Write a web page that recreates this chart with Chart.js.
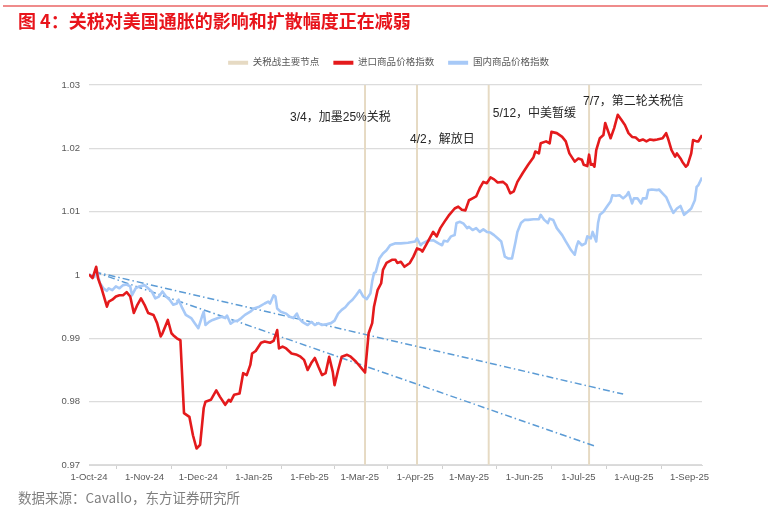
<!DOCTYPE html>
<html>
<head>
<meta charset="utf-8">
<script src="https://cdn.jsdelivr.net/npm/chart.js@4.4.1/dist/chart.umd.min.js"></script>
<style>
html,body{margin:0;padding:0;background:#fff;}
#wrap{position:relative;width:770px;height:511px;overflow:hidden;background:#fff;}
#c{position:absolute;left:0;top:0;}
#topRule{position:absolute;left:3px;top:5px;width:765px;height:2px;background:#ef8b8b;}
#title{position:absolute;left:18px;top:8px;font-family:"Noto Sans CJK SC",sans-serif;font-weight:bold;font-size:18px;color:#e8141b;line-height:24px;white-space:nowrap;}
#source{position:absolute;left:18px;top:487px;font-family:"Noto Sans CJK SC",sans-serif;font-size:13.5px;color:#7f7f7f;line-height:20px;white-space:nowrap;}
</style>
</head>
<body>
<div id="wrap">
  <canvas id="c" width="770" height="511"></canvas>
  <div id="topRule"></div>
  <div id="title">图 4：关税对美国通胀的影响和扩散幅度正在减弱</div>
  <div id="source">数据来源：Cavallo，东方证券研究所</div>
</div>
<script>
// ---------------- DATA ----------------
const seriesNames = ['关税战主要节点', '进口商品价格指数', '国内商品价格指数'];

const importDates = [
'2024-10-01','2024-10-03','2024-10-05','2024-10-06','2024-10-08','2024-10-11','2024-10-12','2024-10-14','2024-10-16','2024-10-18',
'2024-10-20','2024-10-22','2024-10-24','2024-10-26','2024-10-28','2024-10-30','2024-11-01','2024-11-03','2024-11-06','2024-11-08',
'2024-11-10','2024-11-11','2024-11-14','2024-11-16','2024-11-17','2024-11-19','2024-11-21','2024-11-23','2024-11-26','2024-11-28',
'2024-11-30','2024-12-02','2024-12-04','2024-12-05','2024-12-08','2024-12-11','2024-12-13','2024-12-16','2024-12-18','2024-12-19',
'2024-12-21','2024-12-24','2024-12-26','2024-12-28','2024-12-30','2024-12-31','2025-01-02','2025-01-05','2025-01-07','2025-01-10',
'2025-01-12','2025-01-14','2025-01-15','2025-01-17','2025-01-19','2025-01-22','2025-01-25','2025-01-27','2025-01-29','2025-01-31',
'2025-02-02','2025-02-04','2025-02-06','2025-02-08','2025-02-10','2025-02-12','2025-02-14','2025-02-15','2025-02-17','2025-02-19',
'2025-02-22','2025-02-24','2025-02-27','2025-03-02','2025-03-04','2025-03-06','2025-03-08','2025-03-09','2025-03-11','2025-03-13',
'2025-03-14','2025-03-16','2025-03-19','2025-03-21','2025-03-22','2025-03-24','2025-03-26','2025-03-29','2025-03-31','2025-04-02',
'2025-04-04','2025-04-05','2025-04-07','2025-04-11','2025-04-13','2025-04-15','2025-04-18','2025-04-20','2025-04-23','2025-04-25',
'2025-04-27','2025-04-29','2025-05-01','2025-05-03','2025-05-05','2025-05-07','2025-05-09','2025-05-11','2025-05-13','2025-05-15',
'2025-05-17','2025-05-20','2025-05-22','2025-05-24','2025-05-26','2025-05-28','2025-05-31','2025-06-03','2025-06-06','2025-06-07',
'2025-06-09','2025-06-10','2025-06-13','2025-06-15','2025-06-16','2025-06-19','2025-06-22','2025-06-24','2025-06-26','2025-06-29',
'2025-07-01','2025-07-03','2025-07-04','2025-07-06','2025-07-07','2025-07-08','2025-07-09','2025-07-10','2025-07-11','2025-07-13',
'2025-07-15','2025-07-16','2025-07-18','2025-07-19','2025-07-21','2025-07-23','2025-07-25','2025-07-27','2025-07-29','2025-07-31',
'2025-08-02','2025-08-04','2025-08-06','2025-08-08','2025-08-10','2025-08-12','2025-08-14','2025-08-17','2025-08-19','2025-08-20',
'2025-08-22','2025-08-24','2025-08-25','2025-08-27','2025-08-28','2025-08-30','2025-08-31','2025-09-02','2025-09-03','2025-09-05',
'2025-09-06','2025-09-08'
];
const importIndex = [
1.0001,0.9995,1.0013,0.9995,0.9979,0.9950,0.9958,0.9961,0.9966,0.9968,
0.9968,0.9973,0.9966,0.9940,0.9953,0.9963,0.9953,0.9940,0.9937,0.9924,
0.9903,0.9908,0.9929,0.9908,0.9905,0.9900,0.9897,0.9782,0.9776,0.9747,
0.9726,0.9732,0.9790,0.9800,0.9803,0.9818,0.9808,0.9795,0.9803,0.9800,
0.9811,0.9813,0.9845,0.9842,0.9858,0.9876,0.9880,0.9893,0.9895,0.9893,
0.9896,0.9913,0.9884,0.9887,0.9884,0.9876,0.9874,0.9871,0.9866,0.9850,
0.9861,0.9869,0.9855,0.9842,0.9845,0.9871,0.9847,0.9826,0.9850,0.9871,
0.9874,0.9871,0.9863,0.9853,0.9846,0.9908,0.9924,0.9950,0.9976,0.9987,
1.0008,1.0019,1.0024,1.0024,1.0019,1.0021,1.0013,1.0019,1.0029,1.0042,
1.0040,1.0037,1.0047,1.0068,1.0061,1.0074,1.0087,1.0095,1.0105,1.0108,
1.0103,1.0102,1.0118,1.0121,1.0124,1.0137,1.0147,1.0145,1.0154,1.0151,
1.0146,1.0147,1.0142,1.0129,1.0132,1.0147,1.0161,1.0174,1.0186,1.0195,
1.0192,1.0208,1.0211,1.0208,1.0226,1.0224,1.0218,1.0211,1.0192,1.0179,
1.0184,1.0182,1.0174,1.0172,1.0190,1.0174,1.0175,1.0171,1.0197,1.0216,
1.0221,1.0240,1.0224,1.0216,1.0232,1.0253,1.0245,1.0237,1.0224,1.0218,
1.0217,1.0212,1.0214,1.0211,1.0214,1.0213,1.0214,1.0216,1.0224,1.0216,
1.0197,1.0187,1.0192,1.0184,1.0179,1.0171,1.0174,1.0192,1.0213,1.0211,
1.0211,1.0221
];

const domesticDates = [
'2024-10-01','2024-10-04','2024-10-05','2024-10-07','2024-10-09','2024-10-11','2024-10-12','2024-10-14','2024-10-16','2024-10-18',
'2024-10-20','2024-10-22','2024-10-24','2024-10-25','2024-10-27','2024-10-29','2024-11-01','2024-11-03','2024-11-05','2024-11-07',
'2024-11-09','2024-11-11','2024-11-13','2024-11-15','2024-11-17','2024-11-19','2024-11-20','2024-11-22','2024-11-24','2024-11-27',
'2024-11-29','2024-12-01','2024-12-03','2024-12-04','2024-12-05','2024-12-07','2024-12-09','2024-12-12','2024-12-14','2024-12-16',
'2024-12-17','2024-12-19','2024-12-21','2024-12-23','2024-12-25','2024-12-27','2024-12-30','2025-01-01','2025-01-04','2025-01-07',
'2025-01-09','2025-01-10','2025-01-12','2025-01-13','2025-01-14','2025-01-16','2025-01-19','2025-01-21','2025-01-23','2025-01-25',
'2025-01-26','2025-01-28','2025-01-31','2025-02-02','2025-02-04','2025-02-06','2025-02-08','2025-02-10','2025-02-13','2025-02-15',
'2025-02-17','2025-02-19','2025-02-21','2025-02-23','2025-02-25','2025-02-27','2025-03-01','2025-03-03','2025-03-05','2025-03-07',
'2025-03-08','2025-03-09','2025-03-10','2025-03-12','2025-03-14','2025-03-16','2025-03-18','2025-03-21','2025-03-24','2025-03-28',
'2025-04-01','2025-04-02','2025-04-04','2025-04-05','2025-04-08','2025-04-11','2025-04-14','2025-04-16','2025-04-17','2025-04-19',
'2025-04-21','2025-04-23','2025-04-24','2025-04-26','2025-04-28','2025-04-30','2025-05-01','2025-05-03','2025-05-05','2025-05-07',
'2025-05-09','2025-05-11','2025-05-13','2025-05-15','2025-05-17','2025-05-19','2025-05-21','2025-05-23','2025-05-25','2025-05-27',
'2025-05-28','2025-05-30','2025-06-01','2025-06-03','2025-06-06','2025-06-09','2025-06-10','2025-06-12','2025-06-14','2025-06-15',
'2025-06-17','2025-06-19','2025-06-22','2025-06-24','2025-06-27','2025-06-29','2025-06-30','2025-07-01','2025-07-03','2025-07-05',
'2025-07-06','2025-07-08','2025-07-09','2025-07-11','2025-07-12','2025-07-13','2025-07-15','2025-07-17','2025-07-19','2025-07-20',
'2025-07-22','2025-07-24','2025-07-26','2025-07-28','2025-07-29','2025-07-31','2025-08-01','2025-08-03','2025-08-05','2025-08-06',
'2025-08-08','2025-08-09','2025-08-11','2025-08-14','2025-08-15','2025-08-17','2025-08-19','2025-08-21','2025-08-23','2025-08-25',
'2025-08-27','2025-08-29','2025-08-31','2025-09-02','2025-09-04','2025-09-05','2025-09-06','2025-09-08'
];
const domesticIndex = [
1.0001,0.9997,1.0011,0.9988,0.9979,0.9975,0.9979,0.9976,0.9982,0.9979,
0.9984,0.9985,0.9982,0.9968,0.9979,0.9982,0.9984,0.9979,0.9974,0.9963,
0.9966,0.9974,0.9966,0.9961,0.9953,0.9955,0.9961,0.9948,0.9937,0.9932,
0.9924,0.9916,0.9934,0.9942,0.9921,0.9926,0.9929,0.9932,0.9934,0.9932,
0.9936,0.9923,0.9927,0.9928,0.9932,0.9937,0.9942,0.9947,0.9950,0.9955,
0.9958,0.9955,0.9968,0.9966,0.9947,0.9942,0.9939,0.9934,0.9932,0.9939,
0.9932,0.9926,0.9921,0.9926,0.9921,0.9924,0.9921,0.9922,0.9924,0.9928,
0.9939,0.9945,0.9949,0.9956,0.9961,0.9968,0.9976,0.9966,0.9962,0.9971,
0.9990,1.0003,1.0005,1.0026,1.0034,1.0039,1.0047,1.0050,1.0050,1.0051,
1.0053,1.0058,1.0047,1.0050,1.0054,1.0055,1.0050,1.0047,1.0054,1.0053,
1.0061,1.0063,1.0082,1.0084,1.0081,1.0074,1.0076,1.0071,1.0074,1.0068,
1.0072,1.0068,1.0067,1.0063,1.0058,1.0053,1.0029,1.0026,1.0026,1.0053,
1.0068,1.0082,1.0087,1.0087,1.0088,1.0088,1.0095,1.0087,1.0082,1.0089,
1.0087,1.0074,1.0063,1.0053,1.0039,1.0032,1.0045,1.0053,1.0047,1.0050,
1.0061,1.0058,1.0068,1.0053,1.0082,1.0095,1.0100,1.0108,1.0116,1.0126,
1.0125,1.0126,1.0121,1.0126,1.0131,1.0113,1.0121,1.0121,1.0113,1.0121,
1.0121,1.0134,1.0135,1.0134,1.0135,1.0129,1.0123,1.0110,1.0098,1.0105,
1.0109,1.0095,1.0100,1.0105,1.0118,1.0139,1.0142,1.0154
];

// tariff-war key dates and their annotations
const eventDates = ['2025-03-04', '2025-04-02', '2025-05-12', '2025-07-07'];
const eventLabels = ['3/4，加墨25%关税', '4/2，解放日', '5/12，中美暂缓', '7/7，第二轮关税信'];

// dash-dot trend guides
const trendUpperDates = ['2024-10-04', '2025-07-26'];
const trendUpperValues = [1.0005, 0.9812];
const trendLowerDates = ['2024-10-04', '2025-07-11'];
const trendLowerValues = [1.0005, 0.9729];

// axes
const xTickDates = ['2024-10-01','2024-11-01','2024-12-01','2025-01-01','2025-02-01','2025-03-01',
                    '2025-04-01','2025-05-01','2025-06-01','2025-07-01','2025-08-01','2025-09-01'];
const xTickLabels = ['1-Oct-24','1-Nov-24','1-Dec-24','1-Jan-25','1-Feb-25','1-Mar-25',
                     '1-Apr-25','1-May-25','1-Jun-25','1-Jul-25','1-Aug-25','1-Sep-25'];
const xAxisEndDate = '2025-09-08';
const yAxisMin = 0.97;
const yAxisMax = 1.03;
const yAxisStep = 0.01;

// ---------------- HELPERS ----------------
const ORIGIN = Date.UTC(2024, 9, 1);
function toDay(s) {
  const p = s.split('-').map(Number);
  return (Date.UTC(p[0], p[1] - 1, p[2]) - ORIGIN) / 86400000;
}
function toXY(dates, vals) { return dates.map((d, i) => ({ x: toDay(d), y: vals[i] })); }

const FONT = '"Liberation Sans","Noto Sans CJK SC",sans-serif';
Chart.defaults.font.family = FONT;
Chart.defaults.color = '#595959';

const eventLabelPlugin = {
  id: 'eventLabels',
  afterDatasetsDraw(chart) {
    const { ctx, chartArea, scales } = chart;
    const place = [{ dx: -75, dy: 32.5 }, { dx: -7, dy: 55 }, { dx: 4, dy: 28.3 }, { dx: -6, dy: 16.7 }];
    ctx.save();
    ctx.font = '12px ' + FONT;
    ctx.fillStyle = '#262626';
    ctx.textBaseline = 'middle';
    ctx.textAlign = 'left';
    eventLabels.forEach((t, i) => {
      const px = scales.x.getPixelForValue(toDay(eventDates[i]));
      ctx.fillText(t, px + place[i].dx, chartArea.top + place[i].dy);
    });
    ctx.restore();
  }
};

const TAN = '#e6dac3';
const RED = '#e41a1c';
const BLUE = '#a7c9f7';
const DASHBLUE = '#5b9bd5';

new Chart(document.getElementById('c'), {
  type: 'line',
  data: {
    datasets: [
      {
        type: 'bar', label: seriesNames[0],
        data: eventDates.map(d => ({ x: toDay(d), y: yAxisMax })),
        base: yAxisMin,
        backgroundColor: TAN, borderColor: TAN, borderWidth: 0,
        barThickness: 1.3, order: 4, xAxisID: 'x', yAxisID: 'y'
      },
      {
        label: seriesNames[1], data: toXY(importDates, importIndex),
        borderColor: RED, backgroundColor: RED, borderWidth: 2.6,
        pointRadius: 0, tension: 0, borderJoinStyle: 'round', order: 0, xAxisID: 'x', yAxisID: 'y'
      },
      {
        label: seriesNames[2], data: toXY(domesticDates, domesticIndex),
        borderColor: BLUE, backgroundColor: BLUE, borderWidth: 2.6,
        pointRadius: 0, tension: 0, borderJoinStyle: 'round', order: 1, xAxisID: 'x', yAxisID: 'y'
      },
      {
        label: 'trendUpper', data: toXY(trendUpperDates, trendUpperValues),
        borderColor: DASHBLUE, backgroundColor: DASHBLUE, borderWidth: 1.5,
        borderDash: [7, 3, 1.5, 3], pointRadius: 0, order: 2, xAxisID: 'x', yAxisID: 'y'
      },
      {
        label: 'trendLower', data: toXY(trendLowerDates, trendLowerValues),
        borderColor: DASHBLUE, backgroundColor: DASHBLUE, borderWidth: 1.5,
        borderDash: [7, 3, 1.5, 3], pointRadius: 0, order: 2, xAxisID: 'x', yAxisID: 'y'
      }
    ]
  },
  options: {
    responsive: false,
    animation: false,
    devicePixelRatio: 1,
    layout: { padding: { left: 7, right: 0, top: 44, bottom: 0 } },
    plugins: {
      title: { display: false },
      tooltip: { enabled: false },
      legend: {
        display: true, position: 'top', align: 'center',
        labels: {
          boxWidth: 20, boxHeight: 4, padding: 14,
          font: { size: 9.5, family: FONT }, color: '#595959',
          filter: (item) => seriesNames.includes(item.text),
          sort: (a, b) => a.datasetIndex - b.datasetIndex,
          generateLabels(chart) {
            const items = Chart.defaults.plugins.legend.labels.generateLabels(chart);
            items.forEach(it => { it.fillStyle = it.strokeStyle; it.lineWidth = 0; it.lineDash = []; });
            return items;
          }
        }
      }
    },
    scales: {
      x: {
        type: 'linear', position: 'bottom',
        min: 0, max: toDay(xAxisEndDate), offset: false,
        afterBuildTicks(scale) { scale.ticks = xTickDates.map(d => ({ value: toDay(d) })); },
        afterFit(scale) { scale.height = 46; },
        ticks: {
          autoSkip: false, maxRotation: 0, minRotation: 0, padding: 3,
          font: { size: 9.5, family: FONT }, color: '#595959',
          callback: (v, i) => xTickLabels[i]
        },
        grid: { drawOnChartArea: false, drawTicks: true, tickLength: 4, color: '#d0d0d0' },
        border: { display: true, color: '#d9d9d9', width: 1 }
      },
      xTop: {
        type: 'linear', position: 'top', display: true,
        afterFit(scale) { scale.height = 7.5; },
        ticks: { display: false },
        grid: { display: false },
        border: { display: false }
      },
      yRight: {
        type: 'linear', position: 'right', display: true,
        afterFit(scale) { scale.width = 68; },
        ticks: { display: false },
        grid: { display: false },
        border: { display: false }
      },
      y: {
        type: 'linear', position: 'left',
        min: yAxisMin, max: yAxisMax,
        afterFit(scale) { scale.width = 82; },
        ticks: {
          stepSize: yAxisStep, padding: 9,
          font: { size: 9.5, family: FONT }, color: '#595959',
          callback: (v) => String(parseFloat(Number(v).toFixed(2)))
        },
        grid: { drawTicks: false, color: '#dcdcdc', lineWidth: 1.2 },
        border: { display: false }
      }
    }
  },
  plugins: [eventLabelPlugin]
});
</script>
</body>
</html>
